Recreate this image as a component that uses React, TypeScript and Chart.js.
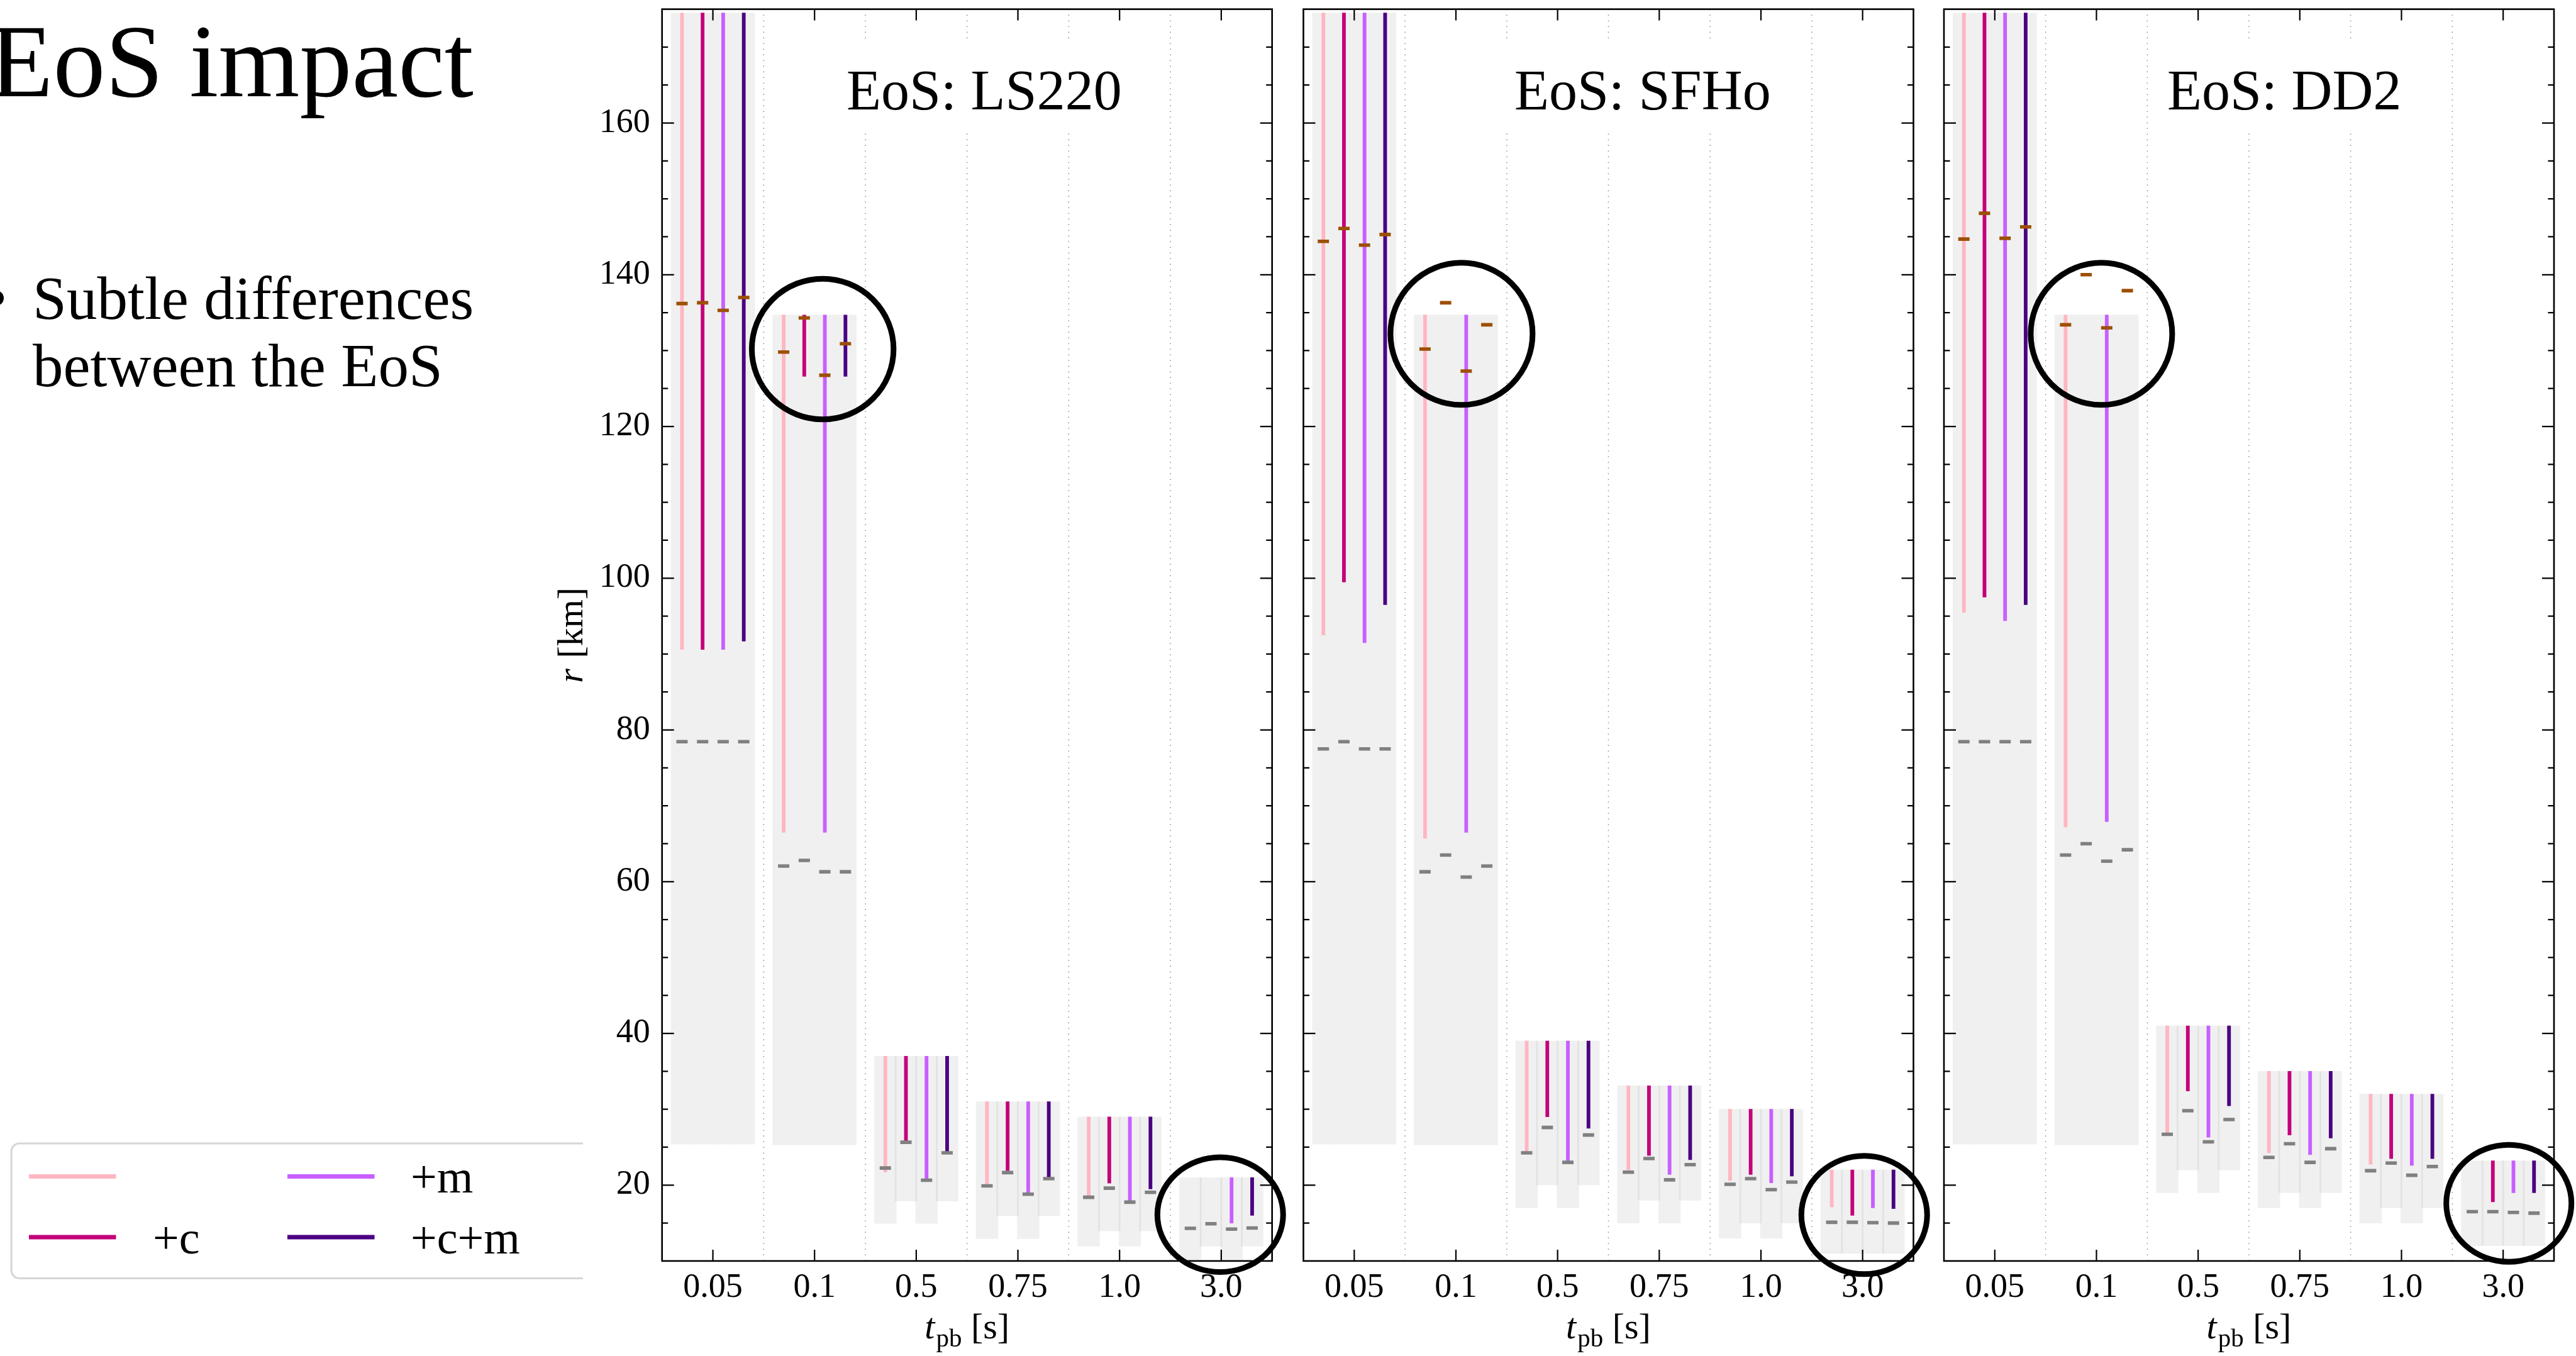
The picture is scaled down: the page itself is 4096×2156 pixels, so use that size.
import React, { useEffect, useRef } from 'react';
import { Chart, registerables } from 'chart.js';

Chart.register(...registerables);

const FONT = "'Liberation Serif', 'DejaVu Serif', serif";

// ---------------- data ----------------
const categories = ['0.05', '0.1', '0.5', '0.75', '1.0', '3.0'];
const variantLabels = ['', '+c', '+m', '+c+m'];
const variantColors = ['#FFB6C1', '#C4007A', '#C85FFF', '#4B0082'];
const upperMarkColor = '#9C5000';
const lowerMarkColor = '#808080';
const yMin = 10;
const yMax = 175;
const yMajorTicks = [20, 40, 60, 80, 100, 120, 140, 160];
const yMinorStep = 5;

// EoS: LS220
const ls220BoxTop = [174.5, 134.7, 37.0, 31.0, 29.0, 21.0];
const ls220BoxBottom = [
  [25.4, 25.3, 14.95, 12.95, 11.95, 9.0],
  [25.4, 25.3, 17.9, 15.95, 13.95, 11.95],
  [25.4, 25.3, 14.95, 12.95, 11.95, 9.0],
  [25.4, 25.3, 17.9, 15.95, 13.95, 11.95],
];
const ls220LineBottom = [
  [90.6, 66.5, 21.7, 20.0, 18.5, null],
  [90.6, 126.6, 25.5, 21.9, 20.25, null],
  [90.6, 66.5, 20.7, 18.9, 17.85, 15.0],
  [91.7, 126.6, 24.45, 20.95, 19.5, 16.0],
];
const ls220Upper = [
  [136.2, 129.8, null, null, null, null],
  [136.3, 134.3, null, null, null, null],
  [135.3, 126.75, null, null, null, null],
  [137.0, 130.9, null, null, null, null],
];
const ls220Lower = [
  [78.45, 62.05, 22.25, 19.9, 18.4, 14.3],
  [78.45, 62.8, 25.65, 21.65, 19.6, 14.9],
  [78.45, 61.3, 20.65, 18.8, 17.75, 14.2],
  [78.45, 61.3, 24.25, 20.85, 19.05, 14.35],
];
const ls220Circles = [
  { cat: 1.08, val: 130.2, rx: 112.7, ry: 111.8 },
  { cat: 4.99, val: 16.1, rx: 100, ry: 91.2 },
];

// EoS: SFHo
const sfhoBoxTop = [174.5, 134.7, 39.0, 33.1, 30.0, 22.0];
const sfhoBoxBottom = [
  [25.4, 25.3, 17.0, 15.0, 13.0, 11.0],
  [25.4, 25.3, 20.0, 18.0, 15.0, 11.0],
  [25.4, 25.3, 17.0, 15.0, 13.0, 11.0],
  [25.4, 25.3, 20.0, 18.0, 15.0, 11.0],
];
const sfhoLineBottom = [
  [92.5, 65.7, 24.4, 22.0, 20.6, 17.1],
  [99.5, null, 29.0, 23.9, 21.4, 16.0],
  [91.5, 66.5, 23.2, 21.4, 20.3, 17.0],
  [96.5, null, 27.5, 23.35, 21.2, 16.9],
];
const sfhoUpper = [
  [144.4, 130.2, null, null, null, null],
  [146.1, 136.3, null, null, null, null],
  [143.9, 127.3, null, null, null, null],
  [145.3, 133.4, null, null, null, null],
];
const sfhoLower = [
  [77.5, 61.3, 24.25, 21.7, 20.1, 15.1],
  [78.45, 63.5, 27.6, 23.5, 20.85, 15.1],
  [77.5, 60.6, 23.0, 20.7, 19.4, 15.05],
  [77.5, 62.05, 26.6, 22.7, 20.4, 15.0],
];
const sfhoCircles = [
  { cat: 1.055, val: 132.2, rx: 113, ry: 113 },
  { cat: 5.016, val: 16.06, rx: 100, ry: 94 },
];

// EoS: DD2
const dd2BoxTop = [174.5, 134.7, 41.0, 35.0, 32.0, 23.2];
const dd2BoxBottom = [
  [25.4, 25.3, 19.0, 17.0, 15.0, 12.0],
  [25.4, 25.3, 22.0, 19.0, 17.0, 12.0],
  [25.4, 25.3, 19.0, 17.0, 15.0, 12.0],
  [25.4, 25.3, 22.0, 19.0, 17.0, 12.0],
];
const dd2LineBottom = [
  [95.5, 67.2, 26.9, 24.25, 22.75, null],
  [97.5, null, 32.4, 26.6, 23.5, 17.8],
  [94.4, 67.9, 26.3, 24.0, 22.6, 19.0],
  [96.5, null, 30.45, 26.2, 23.5, 19.0],
];
const dd2Upper = [
  [144.7, 133.4, null, null, null, null],
  [148.1, 140.0, null, null, null, null],
  [144.8, 133.0, null, null, null, null],
  [146.3, 137.9, null, null, null, null],
];
const dd2Lower = [
  [78.45, 63.5, 26.7, 23.65, 21.9, 16.5],
  [78.45, 65.0, 29.8, 25.45, 22.9, 16.5],
  [78.45, 62.7, 25.7, 23.0, 21.3, 16.4],
  [78.45, 64.2, 28.65, 24.8, 22.45, 16.3],
];
const dd2Circles = [
  { cat: 1.049, val: 132.2, rx: 112.5, ry: 113 },
  { cat: 5.056, val: 17.6, rx: 99.5, ry: 93 },
];

// ---------------- layout / style ----------------
const W = 4096;
const H = 2156;
const PLOT_TOP = 11.8;
const PLOT_BOTTOM = 2004.9;
const PLOT_W = 970;
const GROUP_FRAC = 0.81; // share of a category taken by the 4 variants
const BOX_OVERLAP = 1.065;
const LINE_W = 5.2;
const TICK_FONT = 54;
const TITLE_FONT = 90;
const AXIS_TITLE_FONT = 58;

const panels = [
  {
    title: 'EoS: LS220', titleFrac: 0.528, showY: true,
    boxTop: ls220BoxTop, boxBottom: ls220BoxBottom, lineBottom: ls220LineBottom,
    upper: ls220Upper, lower: ls220Lower, circles: ls220Circles,
    plotLeft: 1052.7, canvasLeft: 860, canvasW: 1200,
  },
  {
    title: 'EoS: SFHo', titleFrac: 0.556, showY: false,
    boxTop: sfhoBoxTop, boxBottom: sfhoBoxBottom, lineBottom: sfhoLineBottom,
    upper: sfhoUpper, lower: sfhoLower, circles: sfhoCircles,
    plotLeft: 2072.5, canvasLeft: 2030, canvasW: 1060,
  },
  {
    title: 'EoS: DD2', titleFrac: 0.558, showY: false,
    boxTop: dd2BoxTop, boxBottom: dd2BoxBottom, lineBottom: dd2LineBottom,
    upper: dd2Upper, lower: dd2Lower, circles: dd2Circles,
    plotLeft: 3091, canvasLeft: 3050, canvasW: 1046,
  },
];

// position of variant v inside category c, in category-index units
function slotX(c: number, v: number) {
  const nV = variantLabels.length;
  return c + (v - (nV - 1) / 2) * (GROUP_FRAC / nV);
}

function markerPoints(values: (number | null)[], v: number) {
  const pts: any[] = [];
  values.forEach((val, c) => {
    if (val !== null && val !== undefined) pts.push({ x: slotX(c, v), y: val });
  });
  return pts;
}

function rangePoints(lo: (number | null)[], hi: number[], v: number) {
  const pts: any[] = [];
  lo.forEach((l, c) => {
    if (l !== null && l !== undefined) pts.push({ x: slotX(c, v), y: [l, hi[c]], c });
  });
  return pts;
}

function makePlugin(p: any) {
  return {
    id: 'deco',
    beforeDatasetsDraw(chart: any) {
      const { ctx, chartArea: a, scales } = chart;
      const x = scales.x;
      ctx.save();
      ctx.strokeStyle = '#8a8a8a';
      ctx.lineWidth = 1.5;
      ctx.setLineDash([1.5, 7.5]);
      for (let i = 0; i < categories.length - 1; i++) {
        const px = (x.getPixelForValue(i) + x.getPixelForValue(i + 1)) / 2;
        ctx.beginPath();
        ctx.moveTo(px, a.bottom);
        ctx.lineTo(px, a.top);
        ctx.stroke();
      }
      ctx.setLineDash([]);
      ctx.font = `${TITLE_FONT}px ${FONT}`;
      const tw = ctx.measureText(p.title).width;
      const cx = a.left + p.titleFrac * (a.right - a.left);
      ctx.fillStyle = '#ffffff';
      ctx.fillRect(cx - tw / 2 - 26, a.top + 53.7, tw + 52, 139.5);
      ctx.fillStyle = '#000';
      ctx.textAlign = 'center';
      ctx.textBaseline = 'alphabetic';
      ctx.fillText(p.title, cx, a.top + 159);
      ctx.restore();
    },
    afterDraw(chart: any) {
      const { ctx, chartArea: a, scales } = chart;
      const x = scales.x;
      const y = scales.y;
      const xm = scales.xm;
      ctx.save();
      ctx.strokeStyle = '#000';
      ctx.lineWidth = 2.2;
      ctx.lineCap = 'butt';
      for (let v = yMin + yMinorStep; v < yMax; v += yMinorStep) {
        const major = yMajorTicks.includes(v);
        const len = major ? 19 : 9.5;
        const py = y.getPixelForValue(v);
        ctx.beginPath();
        ctx.moveTo(a.left, py);
        ctx.lineTo(a.left + len, py);
        ctx.moveTo(a.right, py);
        ctx.lineTo(a.right - len, py);
        ctx.stroke();
      }
      for (let i = 0; i < categories.length; i++) {
        const px = x.getPixelForValue(i);
        ctx.beginPath();
        ctx.moveTo(px, a.bottom);
        ctx.lineTo(px, a.bottom - 18);
        ctx.moveTo(px, a.top);
        ctx.lineTo(px, a.top + 18);
        ctx.stroke();
      }
      ctx.lineWidth = 2.6;
      ctx.strokeRect(a.left, a.top, a.right - a.left, a.bottom - a.top);

      ctx.fillStyle = '#000';
      ctx.textAlign = 'left';
      ctx.textBaseline = 'alphabetic';
      const s = AXIS_TITLE_FONT;
      const fI = `italic ${s}px ${FONT}`;
      const fS = `${Math.round(s * 0.7)}px ${FONT}`;
      const fN = `${s}px ${FONT}`;
      ctx.font = fI; const w1 = ctx.measureText('t').width + 2;
      ctx.font = fS; const w2 = ctx.measureText('pb').width;
      ctx.font = fN; const w3 = ctx.measureText(' [s]').width;
      let tx = (a.left + a.right) / 2 - (w1 + w2 + w3) / 2;
      const tb = a.bottom + 123;
      ctx.font = fI; ctx.fillText('t', tx, tb); tx += w1;
      ctx.font = fS; ctx.fillText('pb', tx, tb + 0.22 * s); tx += w2;
      ctx.font = fN; ctx.fillText(' [s]', tx, tb);

      if (p.showY) {
        ctx.save();
        ctx.translate(a.left - 126.7, (a.top + a.bottom) / 2);
        ctx.rotate(-Math.PI / 2);
        ctx.font = fI; const r1 = ctx.measureText('r').width + 2;
        ctx.font = fN; const r2 = ctx.measureText(' [km]').width;
        let rx = -(r1 + r2) / 2;
        ctx.font = fI; ctx.fillText('r', rx, 0); rx += r1;
        ctx.font = fN; ctx.fillText(' [km]', rx, 0);
        ctx.restore();
      }

      ctx.lineWidth = 9;
      ctx.strokeStyle = '#000';
      for (const c of p.circles) {
        const cx = xm.getPixelForValue(c.cat);
        const cy = y.getPixelForValue(c.val);
        ctx.beginPath();
        ctx.ellipse(cx, cy, c.rx, c.ry, 0, 0, Math.PI * 2);
        ctx.stroke();
      }
      ctx.restore();
    },
  };
}

function Panel({ p }: { p: any }) {
  const ref = useRef<HTMLCanvasElement>(null);
  useEffect(() => {
    const canvas = ref.current;
    if (!canvas) return;
    const nV = variantLabels.length;
    const slotPx = (PLOT_W / categories.length) * GROUP_FRAC / nV;
    const datasets: any[] = [];
    for (let v = 0; v < nV; v++) {
      datasets.push({
        type: 'bar',
        label: 'box' + v,
        xAxisID: 'xm',
        yAxisID: 'y',
        grouped: false,
        data: rangePoints(p.boxBottom[v], p.boxTop, v),
        backgroundColor: (ctx: any) =>
          ctx.raw && ctx.raw.c < 2 ? '#f0f0f0' : 'rgba(0,0,0,0.059)',
        borderWidth: 0,
        barThickness: slotPx * BOX_OVERLAP,
        order: 4,
      });
    }
    for (let v = 0; v < nV; v++) {
      datasets.push({
        type: 'bar',
        label: variantLabels[v],
        xAxisID: 'xm',
        yAxisID: 'y',
        grouped: false,
        data: rangePoints(p.lineBottom[v], p.boxTop, v),
        backgroundColor: variantColors[v],
        borderWidth: 0,
        barThickness: LINE_W,
        order: 3,
      });
    }
    for (let v = 0; v < nV; v++) {
      datasets.push({
        type: 'line',
        label: 'lower' + v,
        xAxisID: 'xm',
        yAxisID: 'y',
        showLine: false,
        data: markerPoints(p.lower[v], v),
        pointStyle: 'line',
        pointRadius: 9,
        pointBorderWidth: 5.6,
        pointBorderColor: lowerMarkColor,
        pointBackgroundColor: lowerMarkColor,
        order: 2,
      });
    }
    for (let v = 0; v < nV; v++) {
      datasets.push({
        type: 'line',
        label: 'upper' + v,
        xAxisID: 'xm',
        yAxisID: 'y',
        showLine: false,
        data: markerPoints(p.upper[v], v),
        pointStyle: 'line',
        pointRadius: 9,
        pointBorderWidth: 5.6,
        pointBorderColor: upperMarkColor,
        pointBackgroundColor: upperMarkColor,
        order: 1,
      });
    }
    const areaLeft = p.plotLeft - p.canvasLeft;
    const areaRight = areaLeft + PLOT_W;
    const chart = new Chart(canvas, {
      type: 'bar',
      data: { labels: categories, datasets },
      options: {
        animation: false,
        responsive: false,
        maintainAspectRatio: false,
        devicePixelRatio: 1,
        events: [],
        layout: {
          padding: {
            left: p.showY ? 0 : areaLeft,
            right: p.canvasW - areaRight,
            top: PLOT_TOP,
            bottom: 0,
          },
        },
        plugins: {
          legend: { display: false },
          tooltip: { enabled: false },
          title: { display: false },
        },
        scales: {
          x: {
            type: 'category',
            position: 'bottom',
            offset: true,
            grid: { display: false, drawTicks: false, offset: true },
            border: { display: false },
            ticks: {
              color: '#000',
              font: { family: FONT, size: TICK_FONT },
              padding: 11,
              maxRotation: 0,
              autoSkip: false,
            },
            afterFit: (s: any) => {
              s.height = H - PLOT_BOTTOM;
              s.paddingLeft = 0; s.paddingRight = 0; s.paddingTop = 0; s.paddingBottom = 0;
            },
          },
          xm: {
            type: 'linear',
            position: 'bottom',
            display: false,
            offset: false,
            grid: { offset: false },
            min: -0.5,
            max: categories.length - 0.5,
            afterFit: (s: any) => {
              s.height = 0;
              s.paddingLeft = 0; s.paddingRight = 0; s.paddingTop = 0; s.paddingBottom = 0;
            },
          },
          y: {
            type: 'linear',
            position: 'left',
            min: yMin,
            max: yMax,
            stacked: false,
            display: p.showY,
            grid: { display: false, drawTicks: false },
            border: { display: false },
            afterBuildTicks: (s: any) => {
              s.ticks = yMajorTicks.map((v) => ({ value: v }));
            },
            ticks: {
              color: '#000',
              font: { family: FONT, size: TICK_FONT },
              padding: 19,
            },
            afterFit: (s: any) => {
              s.width = p.showY ? areaLeft : 0;
              s.paddingLeft = 0; s.paddingRight = 0; s.paddingTop = 0; s.paddingBottom = 0;
            },
          },
        },
      } as any,
      plugins: [makePlugin(p)],
    } as any);
    return () => chart.destroy();
  }, [p]);
  return (
    <canvas
      ref={ref}
      width={p.canvasW}
      height={H}
      style={{ position: 'absolute', left: p.canvasLeft, top: 0, width: p.canvasW, height: H }}
    />
  );
}

function SlideText() {
  const legendRows = [
    { v: 0, col: 0, row: 0 },
    { v: 1, col: 0, row: 1 },
    { v: 2, col: 1, row: 0 },
    { v: 3, col: 1, row: 1 },
  ];
  const colLineX = [46, 457];
  const colTextX = [243, 653];
  const rowLineY = [1870.5, 1967];
  const rowTextY = [1896, 1993];
  return (
    <svg
      width={927}
      height={H}
      style={{ position: 'absolute', left: 0, top: 0 }}
      fontFamily={FONT}
    >
      <text x={-17} y={152.5} fontSize={166} fill="#000">EoS impact</text>
      <circle cx={-6} cy={474} r={12} fill="#000" />
      <text x={52} y={507} fontSize={97} fill="#000">Subtle differences</text>
      <text x={52} y={614} fontSize={97} fill="#000">between the EoS</text>
      <rect x={18} y={1818} width={1100} height={214.5} rx={13} ry={13} fill="#fff" stroke="#d6d6d6" strokeWidth={3.1} />
      {legendRows.map((e) => (
        <g key={e.v}>
          <line
            x1={colLineX[e.col]}
            x2={colLineX[e.col] + 138.5}
            y1={rowLineY[e.row]}
            y2={rowLineY[e.row]}
            stroke={variantColors[e.v]}
            strokeWidth={7}
          />
          <text x={colTextX[e.col]} y={rowTextY[e.row]} fontSize={74} fill="#000">
            {variantLabels[e.v]}
          </text>
        </g>
      ))}
    </svg>
  );
}

export default function App() {
  return (
    <div
      style={{
        position: 'absolute',
        left: 0,
        top: 0,
        width: W,
        height: H,
        overflow: 'hidden',
        background: '#fff',
      }}
    >
      <SlideText />
      {panels.map((p, i) => (
        <Panel key={i} p={p} />
      ))}
    </div>
  );
}
